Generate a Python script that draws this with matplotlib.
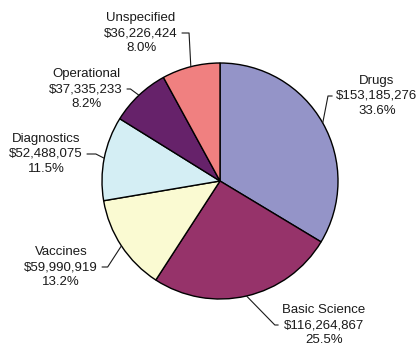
import numpy as np
import matplotlib
matplotlib.use("Agg")
import matplotlib.pyplot as plt

categories = ["Drugs", "Basic Science", "Vaccines", "Diagnostics", "Operational", "Unspecified"]
amounts = [153185276, 116264867, 59990919, 52488075, 37335233, 36226424]
colors = ["#9494c8", "#96336a", "#fafad2", "#d4eef4", "#66226a", "#f08080"]

# label layout in pixels (x, y of text centre) and leader angle near the pie
label_pos = {
    "Drugs": (377, 96, 79),
    "Basic Science": (324, 325, -45.7),
    "Vaccines": (61, 267, 57),
    "Diagnostics": (46, 154, 153),
    "Operational": (86, 89, 143.6),
    "Unspecified": (141, 33, 93),
}

W, H = 419, 350
plt.rcParams["font.family"] = ["Liberation Sans", "DejaVu Sans"]
fig = plt.figure(figsize=(W / 100, H / 100), dpi=100)
ax = fig.add_axes([0, 0, 1, 1])

cx, cy, r = 220, H - 181, 118
wedges, _ = ax.pie(amounts, colors=colors, startangle=90, counterclock=False,
                   center=(cx, cy), radius=r, frame=True,
                   wedgeprops=dict(edgecolor="black", linewidth=1))
ax.set_xlim(0, W)
ax.set_ylim(0, H)
ax.set_aspect("equal")
ax.axis("off")

total = sum(amounts)
for w, name, amt in zip(wedges, categories, amounts):
    mid = np.deg2rad((w.theta1 + w.theta2) / 2)
    ex, ey = cx + r * np.cos(mid), cy + r * np.sin(mid)
    tx, ty, angB = label_pos[name]
    side = 0 if tx > cx else 1
    txt = f"{name}\n${amt:,.0f}\n{amt / total * 100:.1f}%"
    ax.annotate(txt, xy=(ex, ey), xytext=(tx, H - ty), ha="center", va="center",
                fontsize=9.5, color="#1a1a1a", linespacing=1.35,
                arrowprops=dict(arrowstyle="-", color="#1a1a1a", lw=0.8,
                                shrinkA=1, shrinkB=0, relpos=(side, 0.5),
                                connectionstyle=f"angle,angleA=0,angleB={angB},rad=0"))

fig.savefig("out.png", dpi=100)
